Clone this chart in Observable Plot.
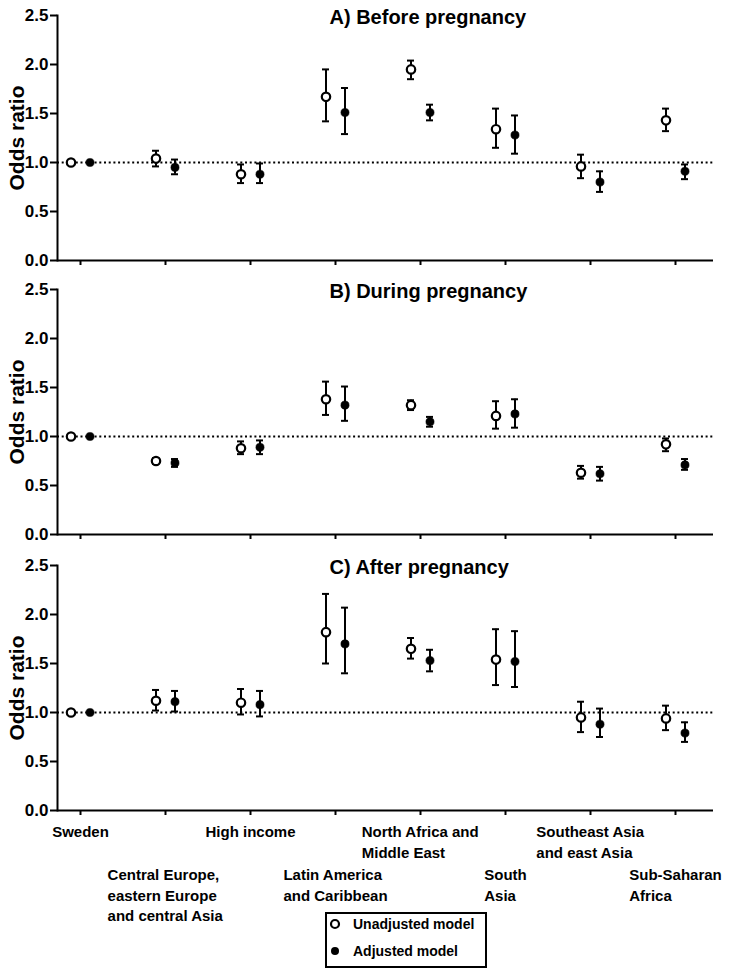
<!DOCTYPE html>
<html>
<head>
<meta charset="utf-8">
<script src="https://cdn.jsdelivr.net/npm/d3@7"></script>
<script src="https://cdn.jsdelivr.net/npm/@observablehq/plot@0.6"></script>
<style>
  body { margin: 0; background: #fff; }
  #wrap { position: relative; width: 732px; height: 973px; font-family: "Liberation Sans", Arial, sans-serif; }
  #wrap > svg { display: block; }
  #wrap svg [aria-label="y-axis tick"], #wrap svg [aria-label="x-axis tick"] { stroke-width: 2; }
  #legend { position: absolute; left: 325px; top: 912px; width: 158px; height: 52px; border: 2px solid #000; background: #fff;
            font-weight: bold; font-size: 14px; color: #000; }
  #legend .row { position: absolute; left: 0; display: flex; align-items: center; height: 20px; }
  #legend svg { display: block; margin-left: 2px; margin-right: 10px; }
</style>
</head>
<body>
<div id="wrap"></div>
<script>
const groups = ["Sweden", "Central Europe", "High income", "Latin America", "North Africa", "South Asia", "Southeast Asia", "Sub-Saharan Africa"];
const groupLabels = [
  "Sweden",
  "Central Europe,\neastern Europe\nand central Asia",
  "High income",
  "Latin America\nand Caribbean",
  "North Africa and\nMiddle East",
  "South\nAsia",
  "Southeast Asia\nand east Asia",
  "Sub-Saharan\nAfrica"
];
const yTicks = [0, 0.5, 1.0, 1.5, 2.0, 2.5];
const panelTitles = ["A) Before pregnancy", "B) During pregnancy", "C) After pregnancy"];

// A) Before pregnancy
const beforeUnadj   = [1.00, 1.04, 0.88, 1.67, 1.95, 1.34, 0.96, 1.43];
const beforeUnadjLo = [1.00, 0.96, 0.79, 1.42, 1.85, 1.15, 0.84, 1.32];
const beforeUnadjHi = [1.00, 1.12, 0.98, 1.95, 2.04, 1.55, 1.08, 1.55];
const beforeAdj     = [1.00, 0.95, 0.88, 1.51, 1.51, 1.28, 0.80, 0.91];
const beforeAdjLo   = [1.00, 0.88, 0.79, 1.29, 1.43, 1.09, 0.70, 0.83];
const beforeAdjHi   = [1.00, 1.03, 0.99, 1.76, 1.59, 1.48, 0.91, 0.98];

// B) During pregnancy
const duringUnadj   = [1.00, 0.75, 0.88, 1.38, 1.32, 1.21, 0.63, 0.92];
const duringUnadjLo = [1.00, 0.72, 0.82, 1.22, 1.27, 1.08, 0.57, 0.85];
const duringUnadjHi = [1.00, 0.78, 0.95, 1.56, 1.37, 1.36, 0.70, 0.98];
const duringAdj     = [1.00, 0.73, 0.89, 1.32, 1.15, 1.23, 0.62, 0.71];
const duringAdjLo   = [1.00, 0.69, 0.82, 1.16, 1.10, 1.09, 0.55, 0.66];
const duringAdjHi   = [1.00, 0.77, 0.96, 1.51, 1.20, 1.38, 0.69, 0.77];

// C) After pregnancy
const afterUnadj    = [1.00, 1.12, 1.10, 1.82, 1.65, 1.54, 0.95, 0.94];
const afterUnadjLo  = [1.00, 1.02, 0.98, 1.50, 1.55, 1.28, 0.80, 0.82];
const afterUnadjHi  = [1.00, 1.23, 1.24, 2.21, 1.76, 1.85, 1.11, 1.07];
const afterAdj      = [1.00, 1.11, 1.08, 1.70, 1.53, 1.52, 0.88, 0.79];
const afterAdjLo    = [1.00, 1.01, 0.96, 1.40, 1.42, 1.26, 0.75, 0.70];
const afterAdjHi    = [1.00, 1.22, 1.22, 2.07, 1.64, 1.83, 1.04, 0.90];

const FONT = '"Liberation Sans", Arial, sans-serif';
const ctx = document.createElement("canvas").getContext("2d");
ctx.font = `bold 15px ${FONT}`;

function panel(title, u, ul, uh, a, al, ah, opts) {
  const rows = groups.map((g, i) => ({g, u: u[i], ul: ul[i], uh: uh[i], a: a[i], al: al[i], ah: ah[i]}));
  const uBars = rows.filter(d => d.uh > d.ul);
  const aBars = rows.filter(d => d.ah > d.al);
  const off = 9.5, cap = -3.5;
  const marks = [
    Plot.ruleY([1], {stroke: "black", strokeWidth: 2, strokeDasharray: "2,2.7"}),
    Plot.frame({anchor: "left", stroke: "black", strokeWidth: 2}),
    Plot.ruleY([0], {stroke: "black", strokeWidth: 2}),
    Plot.ruleX(uBars, {x: "g", y1: "ul", y2: "uh", dx: -off, strokeWidth: 2}),
    Plot.ruleY(uBars, {x1: "g", x2: "g", y: "ul", dx: -off, insetLeft: cap, insetRight: cap, strokeWidth: 2}),
    Plot.ruleY(uBars, {x1: "g", x2: "g", y: "uh", dx: -off, insetLeft: cap, insetRight: cap, strokeWidth: 2}),
    Plot.ruleX(aBars, {x: "g", y1: "al", y2: "ah", dx: off, strokeWidth: 2}),
    Plot.ruleY(aBars, {x1: "g", x2: "g", y: "al", dx: off, insetLeft: cap, insetRight: cap, strokeWidth: 2}),
    Plot.ruleY(aBars, {x1: "g", x2: "g", y: "ah", dx: off, insetLeft: cap, insetRight: cap, strokeWidth: 2}),
    Plot.dot(rows, {x: "g", y: "u", dx: -off, r: 4.2, fill: "white", stroke: "black", strokeWidth: 2.2}),
    Plot.dot(rows, {x: "g", y: "a", dx: off, r: 4.1, fill: "black", stroke: "black", strokeWidth: 0.5}),
    Plot.text([title], {frameAnchor: "top-left", dx: 272, dy: 2, textAnchor: "start", lineAnchor: "middle",
                        fontSize: 20, fontWeight: "bold", fill: "black"}),
    Plot.text(["Odds ratio"], {frameAnchor: "left", dx: -40, rotate: -90, textAnchor: "middle", lineAnchor: "middle",
                               fontSize: 21, fontWeight: "bold", fill: "black"})
  ];
  if (opts.labels) {
    groupLabels.forEach((lab, i) => {
      const w = d3.max(lab.split("\n"), s => ctx.measureText(s).width);
      marks.push(Plot.text([lab], {x: [groups[i]], frameAnchor: "bottom", dx: -w / 2, dy: 12 + (i % 2) * 43,
        textAnchor: "start", lineAnchor: "top", lineHeight: 1.37, fontSize: 15, fontWeight: "bold", fill: "black"}));
    });
  }
  return Plot.plot({
    width: 732,
    height: opts.height,
    marginTop: opts.marginTop,
    marginBottom: opts.marginBottom,
    marginLeft: 57,
    marginRight: 19,
    style: {fontFamily: FONT, fontSize: "17px", fontWeight: "bold", color: "black", background: "white"},
    x: {type: "point", domain: groups, padding: 0.318, align: 0.384, tickSize: 5, tickFormat: () => "", label: null},
    y: {domain: [0, 2.5], ticks: yTicks, tickFormat: d3.format(".1f"), tickSize: 7, tickPadding: 2, label: null},
    marks
  });
}

const wrap = document.getElementById("wrap");
wrap.appendChild(panel(panelTitles[0], beforeUnadj, beforeUnadjLo, beforeUnadjHi, beforeAdj, beforeAdjLo, beforeAdjHi,
  {height: 274, marginTop: 15, marginBottom: 14}));
wrap.appendChild(panel(panelTitles[1], duringUnadj, duringUnadjLo, duringUnadjHi, duringAdj, duringAdjLo, duringAdjHi,
  {height: 274, marginTop: 15, marginBottom: 14}));
wrap.appendChild(panel(panelTitles[2], afterUnadj, afterUnadjLo, afterUnadjHi, afterAdj, afterAdjLo, afterAdjHi,
  {height: 425, marginTop: 17, marginBottom: 163, labels: true}));

const legend = document.createElement("div");
legend.id = "legend";
legend.innerHTML = `
  <div class="row" style="top:0px"><svg width="14" height="14"><circle cx="6" cy="7" r="4" fill="white" stroke="black" stroke-width="2.2"/></svg><span>Unadjusted model</span></div>
  <div class="row" style="top:27px"><svg width="14" height="14"><circle cx="6" cy="7" r="4" fill="black"/></svg><span>Adjusted model</span></div>`;
wrap.appendChild(legend);
</script>
</body>
</html>
